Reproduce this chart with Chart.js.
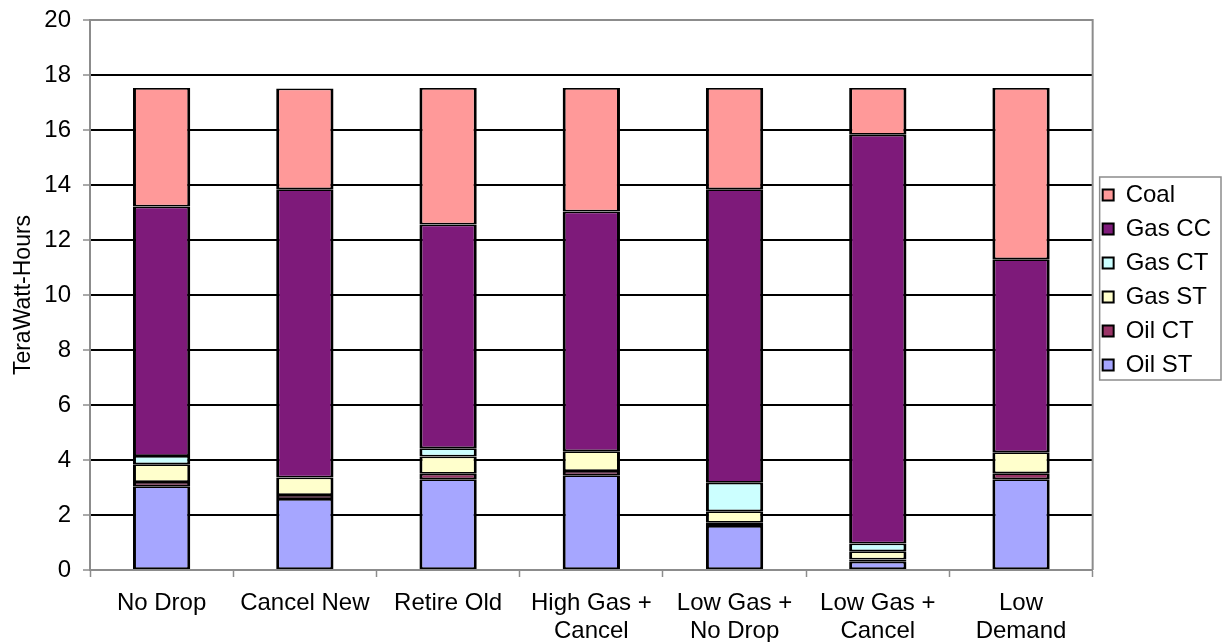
<!DOCTYPE html>
<html>
<head>
<meta charset="utf-8">
<script src="https://cdn.jsdelivr.net/npm/chart.js@4.4.1/dist/chart.umd.min.js"></script>
<style>
  html, body { margin: 0; padding: 0; background: #ffffff; }
  #wrap { width: 1224px; height: 642px; position: relative; }
</style>
</head>
<body>
<div id="wrap"><canvas id="chart" width="1224" height="642"></canvas></div>
<script>
// Scenarios on the category axis
const scenarios = [
  'No Drop',
  'Cancel New',
  'Retire Old',
  ['High Gas +', 'Cancel'],
  ['Low Gas +', 'No Drop'],
  ['Low Gas +', 'Cancel'],
  ['Low', 'Demand']
];

// Generation by fuel type, TeraWatt-Hours
const oilST = [3.05, 2.58, 3.30, 3.45, 1.60, 0.30, 3.30];
const oilCT = [0.15, 0.15, 0.20, 0.15, 0.12, 0.08, 0.22];
const gasST = [0.65, 0.63, 0.63, 0.72, 0.42, 0.30, 0.76];
const gasCT = [0.30, 0.00, 0.30, 0.00, 1.03, 0.28, 0.00];
const gasCC = [9.07, 10.49, 8.13, 8.72, 10.68, 14.87, 7.02];
const coal  = [4.31, 3.66, 4.97, 4.49, 3.68, 1.70, 6.23];

// Value axis ticks
const yTicks = [0, 2, 4, 6, 8, 10, 12, 14, 16, 18, 20];

const FONT = "'Liberation Sans', Arial, Helvetica, sans-serif";

const series = [
  { label: 'Oil ST',  data: oilST, color: '#A6A6FF' },
  { label: 'Oil CT',  data: oilCT, color: '#993366' },
  { label: 'Gas ST',  data: gasST, color: '#FFFFCC' },
  { label: 'Gas CT',  data: gasCT, color: '#CCFFFF' },
  { label: 'Gas CC',  data: gasCC, color: '#7E1A7A' },
  { label: 'Coal',    data: coal,  color: '#FF9999' }
];

// Gray frame around the plotting area
const frame = {
  id: 'frame',
  beforeDatasetsDraw(chart) {
    const { ctx, chartArea: a } = chart;
    ctx.save();
    ctx.strokeStyle = '#8c8c8c';
    ctx.lineWidth = 2;
    ctx.beginPath();
    ctx.moveTo(a.left, a.top);
    ctx.lineTo(a.right, a.top);
    ctx.lineTo(a.right, a.bottom);
    ctx.stroke();
    ctx.restore();
  }
};

// Legend placement and its bordered box
const legendBox = {
  id: 'legendBox',
  afterLayout(chart) {
    const lg = chart.legend;
    lg.top = 168;
    lg.bottom = 392;
  },
  afterDraw(chart) {
    const lg = chart.legend;
    const boxes = lg.legendHitBoxes;
    if (!boxes || !boxes.length) return;
    const left = Math.min(...boxes.map(b => b.left)) - 3;
    const top = Math.min(...boxes.map(b => b.top)) - 6;
    const bottom = Math.max(...boxes.map(b => b.top + b.height)) + 3;
    const ctx = chart.ctx;
    ctx.save();
    ctx.strokeStyle = '#8c8c8c';
    ctx.lineWidth = 1.5;
    ctx.strokeRect(left, top, 1221 - left, bottom - top);
    ctx.restore();
  }
};

new Chart(document.getElementById('chart'), {
  type: 'bar',
  data: {
    labels: scenarios,
    datasets: series.map(s => ({
      label: s.label,
      data: s.data,
      backgroundColor: s.color,
      borderColor: '#000000',
      borderWidth: { top: 1.75, bottom: 1.75, left: 3, right: 3 },
      borderSkipped: false,
      barPercentage: 0.4,
      categoryPercentage: 1.0
    }))
  },
  options: {
    responsive: false,
    animation: false,
    devicePixelRatio: 1,
    layout: { padding: { top: 20, right: 3, left: 0, bottom: 0 } },
    plugins: {
      tooltip: { enabled: false },
      legend: {
        position: 'right',
        fullSize: false,
        reverse: true,
        align: 'center',
        labels: {
          color: '#000000',
          font: { family: FONT, size: 24 },
          boxWidth: 11,
          boxHeight: 11,
          padding: 10,
          useBorderRadius: false,
          generateLabels(chart) {
            const items = Chart.defaults.plugins.legend.labels.generateLabels(chart);
            items.forEach(it => { it.lineWidth = 2; it.strokeStyle = '#000000'; });
            return items;
          }
        }
      }
    },
    scales: {
      x: {
        stacked: true,
        offset: true,
        grid: {
          offset: true,
          drawOnChartArea: false,
          tickLength: 7,
          tickColor: '#8c8c8c',
          tickWidth: 1.5
        },
        border: { color: '#8c8c8c', width: 2 },
        ticks: {
          color: '#000000',
          font: { family: FONT, size: 24, lineHeight: 1.15 },
          maxRotation: 0,
          autoSkip: false,
          padding: 13
        },
        afterFit(scale) { scale.height = 72; }
      },
      y: {
        stacked: true,
        min: 0,
        max: 20,
        afterBuildTicks(scale) { scale.ticks = yTicks.map(v => ({ value: v })); },
        grid: {
          color: ctx => (ctx.tick && ctx.tick.value === 20) ? '#8c8c8c' : '#000000',
          lineWidth: 2,
          tickLength: 7,
          tickColor: '#8c8c8c',
          tickWidth: 1.5
        },
        border: { color: '#8c8c8c', width: 2 },
        ticks: {
          color: '#000000',
          font: { family: FONT, size: 24 },
          padding: 12
        },
        title: {
          display: true,
          text: 'TeraWatt-Hours',
          color: '#000000',
          font: { family: FONT, size: 23 },
          padding: { top: 10, bottom: 8 }
        },
        afterFit(scale) {
          scale.width = 90;
          scale.paddingTop = 0;
          scale.paddingBottom = 0;
        }
      }
    }
  },
  plugins: [frame, legendBox]
});
</script>
</body>
</html>
